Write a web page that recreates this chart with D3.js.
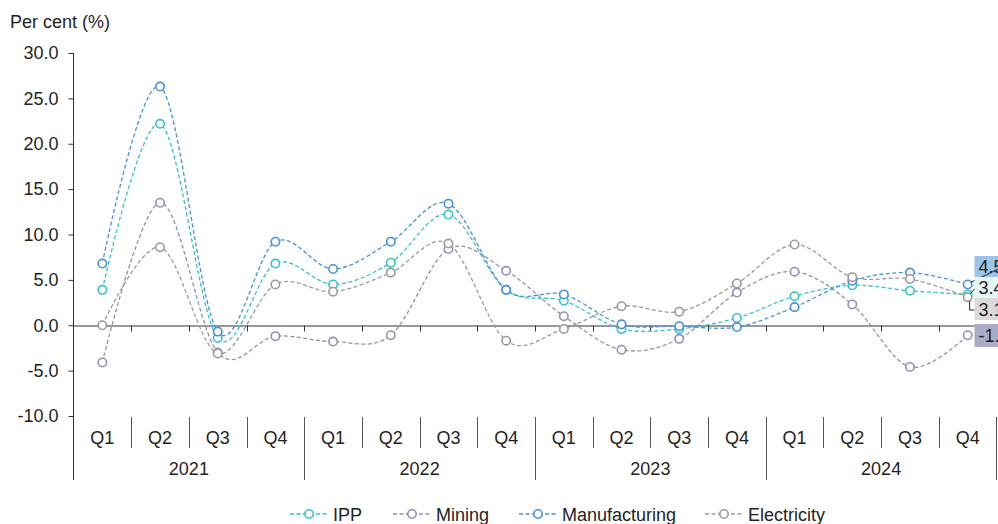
<!DOCTYPE html>
<html>
<head>
<meta charset="utf-8">
<script src="https://cdn.jsdelivr.net/npm/d3@7/dist/d3.min.js"></script>
<style>
  html, body { margin: 0; padding: 0; background: #fff; }
  svg { display: block; font-family: "Liberation Sans", Arial, sans-serif; }
</style>
</head>
<body>
<svg id="chart" width="998" height="524"></svg>
<script>
// Quarterly growth, per cent
const quarters = ["Q1", "Q2", "Q3", "Q4"];
const years = ["2021", "2022", "2023", "2024"];
const yTicks = [30, 25, 20, 15, 10, 5, 0, -5, -10];

const ipp           = [3.9, 22.2, -1.4, 6.8, 4.5, 6.9, 12.2, 3.9, 2.7, -0.4, -0.4, 0.8, 3.2, 4.4, 3.8, 3.4];
const mining        = [-4.1, 13.5, -3.0, -1.2, -1.8, -1.1, 8.4, 6.0, 1.0, -2.7, -1.5, 3.6, 5.9, 2.3, -4.6, -1.1];
const manufacturing = [6.8, 26.3, -0.7, 9.2, 6.2, 9.2, 13.4, 3.9, 3.4, 0.1, -0.1, -0.2, 2.0, 4.9, 5.8, 4.5];
const electricity   = [0.0, 8.6, -3.1, 4.5, 3.7, 5.8, 9.0, -1.7, -0.4, 2.1, 1.5, 4.6, 8.9, 5.3, 5.1, 3.1];

const seriesNames = ["IPP", "Mining", "Manufacturing", "Electricity"];

const series = [
  { name: seriesNames[0], values: ipp, color: "#34C3C8", boxFill: "#E6F6F6" },
  { name: seriesNames[1], values: mining, color: "#8E90B8", boxFill: "#A9ABC7" },
  { name: seriesNames[2], values: manufacturing, color: "#4A90D6", boxFill: "#9DC3E6" },
  { name: seriesNames[3], values: electricity, color: "#9A9A9A", boxFill: "#DADADA" }
];

const svg = d3.select("#chart");
const textColor = "#1f1f1f";
const axisColor = "#333";
const fontSize = 18;

// one-decimal format with a plain hyphen for negatives
const fmt = d3.formatLocale({ decimal: ".", thousands: ",", grouping: [3], currency: ["", ""], minus: "-" }).format(".1f");

const categories = [];
years.forEach(y => quarters.forEach(q => categories.push(y + " " + q)));

const x = d3.scaleBand().domain(categories).range([73.5, 996.5]);
const y = d3.scaleLinear().domain([-10, 30]).range([416, 53]);
const cx = c => x(c) + x.bandwidth() / 2;

// Y axis title
svg.append("text")
  .attr("x", 10).attr("y", 28)
  .attr("font-size", fontSize).attr("fill", textColor)
  .text("Per cent (%)");

// Y axis
const yAxis = svg.append("g").attr("transform", "translate(73.5,0)")
  .call(d3.axisLeft(y).tickValues(yTicks).tickFormat(fmt).tickSize(5).tickPadding(10));
yAxis.select(".domain").remove();
yAxis.selectAll(".tick line").attr("stroke", axisColor);
yAxis.selectAll(".tick text").attr("font-size", fontSize).attr("fill", textColor)
  .attr("font-family", "Liberation Sans, Arial, sans-serif");

// vertical axis line, running down through the category labels
svg.append("line")
  .attr("x1", 73.5).attr("x2", 73.5)
  .attr("y1", y(30)).attr("y2", 480)
  .attr("stroke", axisColor).attr("stroke-width", 1);

// zero line with downward ticks between quarters
const zeroY = Math.round(y(0)) + 0.5;
const xAxis = svg.append("g").attr("transform", `translate(0,${zeroY})`)
  .call(d3.axisBottom(x).tickValues([]).tickSizeOuter(0));
xAxis.select(".domain").attr("stroke", axisColor);
svg.append("g").selectAll("line")
  .data(categories)
  .join("line")
  .attr("x1", (d, i) => Math.round(x.range()[0] + (i + 1) * x.step()) + 0.5)
  .attr("x2", (d, i) => Math.round(x.range()[0] + (i + 1) * x.step()) + 0.5)
  .attr("y1", zeroY).attr("y2", zeroY + 6)
  .attr("stroke", axisColor);

// Category labels: quarters and years
const catG = svg.append("g");
categories.forEach((c, i) => {
  catG.append("text")
    .attr("x", cx(c)).attr("y", 444)
    .attr("text-anchor", "middle").attr("font-size", fontSize).attr("fill", textColor)
    .text(quarters[i % 4]);
  if (i > 0) {
    const sx = Math.round(x(c)) + 0.5;
    const isYear = i % 4 === 0;
    catG.append("line")
      .attr("x1", sx).attr("x2", sx)
      .attr("y1", 417).attr("y2", isYear ? 480 : 448)
      .attr("stroke", "#555");
  }
});
const endX = Math.round(x.range()[1]) - 0.5;
catG.append("line").attr("x1", endX).attr("x2", endX).attr("y1", 417).attr("y2", 480).attr("stroke", "#555");
years.forEach((yr, i) => {
  const first = categories[i * 4], last = categories[i * 4 + 3];
  catG.append("text")
    .attr("x", (x(first) + x(last) + x.bandwidth()) / 2).attr("y", 475)
    .attr("text-anchor", "middle").attr("font-size", fontSize).attr("fill", textColor)
    .text(yr);
});

// Smoothed dashed lines with hollow markers
const line = d3.line()
  .x((d, i) => cx(categories[i]))
  .y(d => y(d))
  .curve(d3.curveCardinal.tension(0));

series.forEach(s => {
  const g = svg.append("g");
  g.append("path")
    .attr("d", line(s.values))
    .attr("fill", "none")
    .attr("stroke", s.color)
    .attr("stroke-width", 1.3)
    .attr("stroke-dasharray", "4,2.5");
  g.selectAll("circle")
    .data(s.values)
    .join("circle")
    .attr("cx", (d, i) => cx(categories[i]))
    .attr("cy", d => y(d))
    .attr("r", 4.2)
    .attr("fill", "#fff")
    .attr("stroke", s.color)
    .attr("stroke-width", 1.6);
});

// End-of-series value labels with leader lines
const lastIdx = categories.length - 1;
const lastX = cx(categories[lastIdx]);
const boxX = 974.5;
const labelG = svg.append("g");
const labelSpec = [
  { s: series[2], top: 256, h: 21, leader: (px, py) => [[px + 3, py - 2], [boxX + 30, 266]] },
  { s: series[0], top: 277, h: 21, leader: (px, py) => [[px + 3, py - 1], [boxX, 289]] },
  { s: series[3], top: 298, h: 22, leader: (px, py) => [[px + 2, py + 4], [px + 2, 310], [boxX, 310]] },
  { s: series[1], top: 324, h: 23, leader: null }
];
labelSpec.forEach(l => {
  const v = l.s.values[lastIdx];
  const px = lastX, py = y(v);
  labelG.append("rect")
    .attr("x", boxX).attr("y", l.top).attr("width", 45).attr("height", l.h)
    .attr("fill", l.s.boxFill);
  labelG.append("text")
    .attr("x", boxX + 4).attr("y", l.top + l.h / 2 + 6.5)
    .attr("font-size", fontSize).attr("fill", textColor)
    .text(fmt(v));
  if (l.leader) {
    labelG.append("path")
      .attr("d", d3.line()(l.leader(px, py)))
      .attr("fill", "none").attr("stroke", "#222").attr("stroke-width", 1);
  }
});

// Legend
const legendItems = [
  { s: series[0], x0: 290 },
  { s: series[1], x0: 393 },
  { s: series[2], x0: 519 },
  { s: series[3], x0: 705 }
];
const legendY = 514;
const legend = svg.append("g");
legendItems.forEach(li => {
  legend.append("line")
    .attr("x1", li.x0).attr("x2", li.x0 + 37)
    .attr("y1", legendY).attr("y2", legendY)
    .attr("stroke", li.s.color).attr("stroke-width", 1.3)
    .attr("stroke-dasharray", "4,2.5");
  legend.append("circle")
    .attr("cx", li.x0 + 19).attr("cy", legendY).attr("r", 4.2)
    .attr("fill", "#fff").attr("stroke", li.s.color).attr("stroke-width", 1.6);
  legend.append("text")
    .attr("x", li.x0 + 43).attr("y", legendY + 7)
    .attr("font-size", fontSize).attr("fill", textColor)
    .text(li.s.name);
});
</script>
</body>
</html>
